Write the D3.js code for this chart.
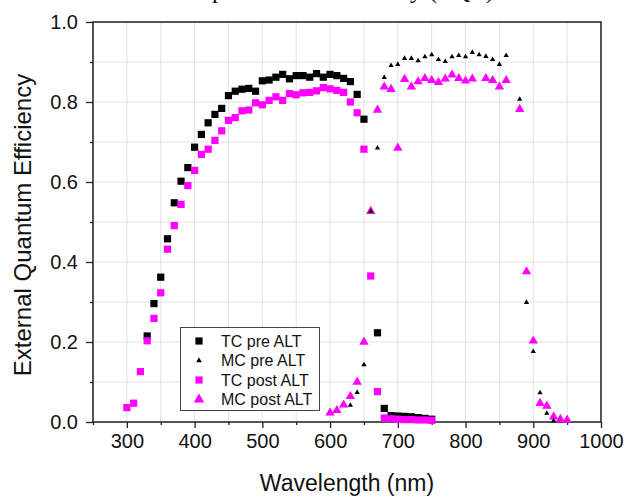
<!DOCTYPE html>
<html>
<head>
<meta charset="utf-8">
<script src="https://cdn.jsdelivr.net/npm/d3@7"></script>
<style>
  html, body { margin: 0; padding: 0; background: #fff; }
  svg { display: block; }
</style>
</head>
<body>
<div id="container"></div>
<script>
// data (wavelength in nm, EQE as a fraction)
const tcPreWl  = [330,340,350,360,370,380,390,400,410,420,430,440,450,460,470,480,490,500,510,520,530,540,550,560,570,580,590,600,610,620,630,640,650,670,680,690,700,710,720,730,740,750];
const tcPreEqe = [0.215,0.296,0.362,0.458,0.548,0.602,0.636,0.687,0.719,0.748,0.769,0.784,0.816,0.827,0.832,0.834,0.827,0.853,0.855,0.862,0.869,0.858,0.866,0.866,0.862,0.871,0.862,0.869,0.866,0.859,0.851,0.819,0.757,0.223,0.034,0.016,0.015,0.014,0.013,0.011,0.009,0.007];

const tcPostWl  = [300,310,320,330,340,350,360,370,380,390,400,410,420,430,440,450,460,470,480,490,500,510,520,530,540,550,560,570,580,590,600,610,620,630,640,650,660,670,680,690,700,710,720,730,740,750];
const tcPostEqe = [0.036,0.047,0.126,0.203,0.259,0.323,0.432,0.491,0.544,0.591,0.629,0.669,0.682,0.704,0.728,0.754,0.761,0.778,0.780,0.798,0.793,0.804,0.813,0.804,0.821,0.818,0.823,0.824,0.828,0.836,0.833,0.829,0.824,0.800,0.773,0.682,0.365,0.076,0.010,0.008,0.007,0.006,0.006,0.005,0.005,0.004];

const mcPreWl  = [630,640,650,660,670,680,690,700,710,720,730,740,750,760,770,780,790,800,810,820,830,840,850,860,880,890,900,910,920,930];
const mcPreEqe = [0.042,0.074,0.143,0.527,0.685,0.861,0.891,0.894,0.909,0.909,0.903,0.913,0.918,0.906,0.901,0.913,0.916,0.913,0.924,0.918,0.914,0.906,0.894,0.916,0.807,0.299,0.176,0.073,0.022,0.003];

const mcPostWl  = [600,610,620,630,640,650,660,670,680,690,700,710,720,730,740,750,760,770,780,790,800,810,830,840,850,860,880,890,900,910,920,930,940,950];
const mcPostEqe = [0.023,0.029,0.043,0.064,0.100,0.200,0.527,0.780,0.838,0.832,0.685,0.857,0.838,0.851,0.859,0.854,0.849,0.858,0.868,0.859,0.853,0.858,0.859,0.854,0.838,0.854,0.782,0.376,0.203,0.047,0.040,0.013,0.007,0.005];

const xTicks = [300,400,500,600,700,800,900,1000];
const xMinor = [250,350,450,550,650,750,850,950];
const yTicks = [0,0.2,0.4,0.6,0.8,1.0];
const yMinor = [0.1,0.3,0.5,0.7,0.9];

const seriesNames = ['TC pre ALT','MC pre ALT','TC post ALT','MC post ALT'];

// layout
const width = 629, height = 497;
const plot = { left: 93, right: 601, top: 22, bottom: 422 };
const sansFont = '"Liberation Sans", Arial, sans-serif';
const magenta = '#ff00ff';

const svg = d3.select('#container').append('svg')
  .attr('width', width)
  .attr('height', height);

const x = d3.scaleLinear().domain([250, 1000]).range([plot.left, plot.right]);
const y = d3.scaleLinear().domain([0, 1]).range([plot.bottom, plot.top]);

// title, cut off by the top edge as in the source image (only descenders show)
svg.append('text')
  .attr('x', 494).attr('y', -2)
  .attr('text-anchor', 'end')
  .attr('font-family', '"Liberation Serif", "Times New Roman", serif')
  .attr('font-size', 25)
  .attr('fill', '#111')
  .text('Comparison of Efficiency (EQE)');

// grid
const grid = svg.append('g');
xTicks.concat(xMinor).forEach(v => {
  grid.append('line')
    .attr('x1', x(v)).attr('x2', x(v))
    .attr('y1', plot.top).attr('y2', plot.bottom)
    .attr('stroke', '#e2e2e2').attr('stroke-width', 1);
});
yTicks.concat(yMinor).forEach(v => {
  grid.append('line')
    .attr('x1', plot.left).attr('x2', plot.right)
    .attr('y1', y(v)).attr('y2', y(v))
    .attr('stroke', '#e2e2e2').attr('stroke-width', 1);
});

// axes
const xAxis = svg.append('g')
  .attr('transform', `translate(0,${plot.bottom})`)
  .call(d3.axisBottom(x).tickValues(xTicks).tickSize(6).tickPadding(6).tickFormat(d3.format('d')));
const xAxisMinor = svg.append('g')
  .attr('transform', `translate(0,${plot.bottom})`)
  .call(d3.axisBottom(x).tickValues(xMinor).tickSize(3).tickFormat(''));
const yAxis = svg.append('g')
  .attr('transform', `translate(${plot.left},0)`)
  .call(d3.axisLeft(y).tickValues(yTicks).tickSize(7).tickPadding(8).tickFormat(d3.format('.1f')));
const yAxisMinor = svg.append('g')
  .attr('transform', `translate(${plot.left},0)`)
  .call(d3.axisLeft(y).tickValues(yMinor).tickSize(3).tickFormat(''));

[xAxis, xAxisMinor, yAxis, yAxisMinor].forEach(g => {
  g.select('.domain').remove();
  g.selectAll('line').attr('stroke', '#222').attr('stroke-width', 1.3);
  g.selectAll('text')
    .attr('font-family', sansFont)
    .attr('font-size', 20)
    .attr('fill', '#111');
});

// frame
svg.append('rect')
  .attr('x', plot.left).attr('y', plot.top)
  .attr('width', plot.right - plot.left)
  .attr('height', plot.bottom - plot.top)
  .attr('fill', 'none')
  .attr('stroke', '#222')
  .attr('stroke-width', 1.5);

// axis titles
svg.append('text')
  .attr('x', (plot.left + plot.right) / 2)
  .attr('y', 491)
  .attr('text-anchor', 'middle')
  .attr('font-family', sansFont)
  .attr('font-size', 23)
  .attr('fill', '#111')
  .text('Wavelength (nm)');
svg.append('text')
  .attr('transform', `translate(31,${(plot.top + plot.bottom) / 2 + 3}) rotate(-90)`)
  .attr('text-anchor', 'middle')
  .attr('font-family', sansFont)
  .attr('font-size', 24)
  .attr('fill', '#111')
  .text('External Quantum Efficiency');

// markers
const sqSym   = d3.symbol().type(d3.symbolSquare).size(52)();
const triSmall = d3.symbol().type(d3.symbolTriangle).size(12)();
const triBig   = d3.symbol().type(d3.symbolTriangle).size(38)();

function drawSeries(wl, eqe, path, color) {
  const pts = wl.map((w, i) => ({ w: w, v: eqe[i] }));
  svg.append('g').selectAll('path')
    .data(pts)
    .enter()
    .append('path')
      .attr('d', path)
      .attr('transform', d => `translate(${x(d.w)},${y(d.v)})`)
      .attr('fill', color);
}

drawSeries(tcPreWl, tcPreEqe, sqSym, '#000');
drawSeries(tcPostWl, tcPostEqe, sqSym, magenta);
drawSeries(mcPostWl, mcPostEqe, triBig, magenta);
drawSeries(mcPreWl, mcPreEqe, triSmall, '#000');

// legend
const legend = svg.append('g');
legend.append('rect')
  .attr('x', 180.5).attr('y', 327.5)
  .attr('width', 139).attr('height', 83)
  .attr('fill', '#fff')
  .attr('stroke', '#444')
  .attr('stroke-width', 1);
const legendSyms = [
  { path: sqSym, color: '#000' },
  { path: d3.symbol().type(d3.symbolTriangle).size(14)(), color: '#000' },
  { path: sqSym, color: magenta },
  { path: d3.symbol().type(d3.symbolTriangle).size(48)(), color: magenta }
];
seriesNames.forEach((name, i) => {
  const cy = 341 + i * 19.5;
  legend.append('path')
    .attr('d', legendSyms[i].path)
    .attr('transform', `translate(199,${cy})`)
    .attr('fill', legendSyms[i].color);
  legend.append('text')
    .attr('x', 221).attr('y', cy + 5.5)
    .attr('font-family', sansFont)
    .attr('font-size', 16)
    .attr('fill', '#111')
    .text(name);
});
</script>
</body>
</html>
